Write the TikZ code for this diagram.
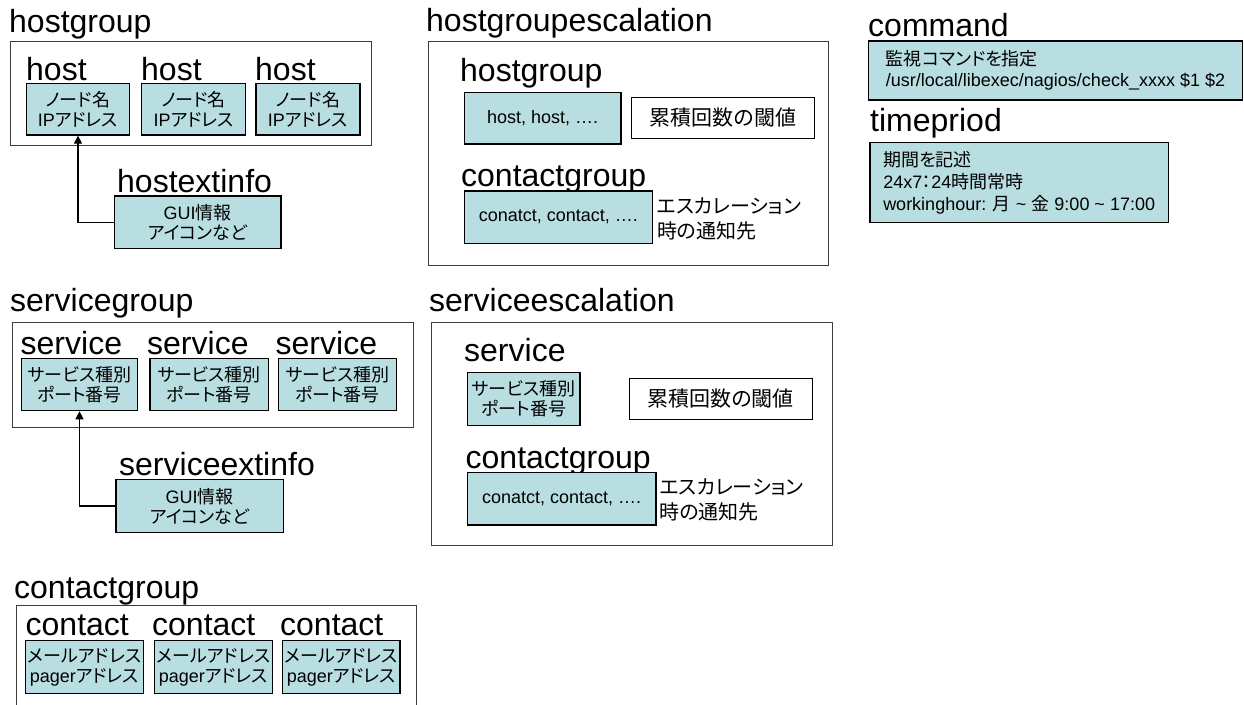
\documentclass[tikz,border=0pt]{standalone}
\usepackage{fontspec}
\setmainfont{Liberation Sans}
\newfontfamily\jp[RawFeature=+palt]{Noto Sans CJK JP}
\newcommand\jtext[1]{{\jp #1}}
\usetikzlibrary{arrows.meta}
\definecolor{boxfill}{RGB}{184,222,226}
\definecolor{framegray}{RGB}{60,60,60}
\tikzset{
  heading/.style={anchor=base west, inner sep=0, font=\fontsize{32}{38}\selectfont},
  frame/.style={draw=framegray, line width=1pt, inner sep=0},
  item/.style={draw=black, fill=boxfill, line width=1.2pt, inner sep=0, align=center,
    font=\fontsize{18}{20}\selectfont},
  listbox/.style={draw=black, fill=boxfill, line width=1.2pt, inner sep=0,
    align=left, font=\fontsize{18}{20.5}\selectfont},
  note/.style={draw=black, fill=white, line width=1.2pt, inner sep=0,
    font=\jp\fontsize{21}{25}\selectfont},
  remark/.style={anchor=west, inner sep=0, align=left, font=\jp\fontsize{20}{25.5}\selectfont},
  link/.style={line width=1.2pt, -{Triangle[length=8pt,width=8pt]}},
}
\begin{document}
\begin{tikzpicture}[x=1pt,y=-1pt]
\fill[white] (0,0) rectangle (1244,704);
\useasboundingbox (0,0) rectangle (1244,704);

% ---------- hostgroup ----------
\node[frame, minimum width=360.3pt, minimum height=104pt] (hgf) at (190.9,93.7) {};
\node[heading] (hgt) at (9,32) {hostgroup};
\node[heading] (h1t) at (26,80) {host};
\node[heading] (h2t) at (141,80) {host};
\node[heading] (h3t) at (255,80) {host};
\node[item, minimum width=102.6pt, minimum height=51.7pt] (h1) at (78,109.2) {\jtext{ノード名}\\IP\jtext{アドレス}};
\node[item, minimum width=104pt, minimum height=51.7pt] (h2) at (193.7,109.2) {\jtext{ノード名}\\IP\jtext{アドレス}};
\node[item, minimum width=104pt, minimum height=51.7pt] (h3) at (308,109.2) {\jtext{ノード名}\\IP\jtext{アドレス}};
\node[heading] (hxt) at (117,192.7) {hostextinfo};
\node[item, minimum width=166.7pt, minimum height=52.3pt] (hx) at (197.7,222.2) {GUI\jtext{情報}\\\jtext{アイコンなど}};
\draw[link] (hx.west) -| (h1.south);

% ---------- hostgroupescalation ----------
\node[frame, minimum width=400pt, minimum height=223.3pt] (hef) at (628.3,153.35) {};
\node[heading] (het) at (426,31.7) {hostgroupescalation};
\node[heading] (heht) at (460,81.7) {hostgroup};
\node[heading] (hect) at (461,186.7) {contactgroup};
\node[item, minimum width=156.7pt, minimum height=51.7pt] (heh) at (542.65,118.15) {host, host, ….};
\node[note, minimum width=182.6pt, minimum height=41pt] (hen) at (723,117.8) {累積回数の閾値};
\node[item, minimum width=188pt, minimum height=52.3pt] (hec) at (558.3,217.15) {conatct, contact, ….};
\node[remark] (her) at (657,219.2) {エスカレーション\\時の通知先};

% ---------- command / timepriod ----------
\node[heading] (cmt) at (868,36.7) {command};
\node[listbox, minimum width=374.4pt, minimum height=59pt] (cm) at (1055.5,70.5)
  {\jtext{監視コマンドを指定}\\/usr/local/libexec/nagios/check\_xxxx \$1 \$2};
\node[heading] (tpt) at (870,131.7) {timepriod};
\node[listbox, minimum width=298.3pt, minimum height=80pt, font=\fontsize{18}{21.7}\selectfont] (tp) at (1019.15,182.7)
  {\jtext{期間を記述}\\24x7\jtext{：}24\jtext{時間常時}\\workinghour: \jtext{月} \textasciitilde{} \jtext{金} 9:00 \textasciitilde{} 17:00};

% ---------- servicegroup ----------
\node[frame, minimum width=401pt, minimum height=105pt] (sgf) at (212.8,375.2) {};
\node[heading] (sgt) at (10,311.7) {servicegroup};
\node[heading] (s1t) at (20.5,354) {service};
\node[heading] (s2t) at (147,354) {service};
\node[heading] (s3t) at (275.5,354) {service};
\node[item, minimum width=115.6pt, minimum height=52.4pt] (s1) at (79.5,384.5) {\jtext{サービス種別}\\\jtext{ポート番号}};
\node[item, minimum width=118.3pt, minimum height=52.4pt] (s2) at (209.15,384.5) {\jtext{サービス種別}\\\jtext{ポート番号}};
\node[item, minimum width=118.4pt, minimum height=52.4pt] (s3) at (337.5,384.5) {\jtext{サービス種別}\\\jtext{ポート番号}};
\node[heading] (sxt) at (119,475) {serviceextinfo};
\node[item, minimum width=167.3pt, minimum height=53.4pt] (sx) at (199.65,506) {GUI\jtext{情報}\\\jtext{アイコンなど}};
\draw[link] (sx.west) -| (s1.south);

% ---------- serviceescalation ----------
\node[frame, minimum width=400.6pt, minimum height=222.3pt] (sef) at (632,433.85) {};
\node[heading] (set) at (429,311.7) {serviceescalation};
\node[heading] (sest) at (464,361.7) {service};
\node[heading] (sect) at (465.5,468.3) {contactgroup};
\node[item, minimum width=112.7pt, minimum height=53.4pt] (ses) at (523.65,399) {\jtext{サービス種別}\\\jtext{ポート番号}};
\node[note, minimum width=183pt, minimum height=41pt] (sen) at (720.8,398.8) {累積回数の閾値};
\node[item, minimum width=188.7pt, minimum height=52.3pt] (sec) at (561.65,498.85) {conatct, contact, ….};
\node[remark] (ser) at (659.5,500) {エスカレーション\\時の通知先};

% ---------- contactgroup ----------
\node[frame, minimum width=400pt, minimum height=155pt] (cgf) at (216.7,682.5) {};
\node[heading] (cgt) at (14,598.3) {contactgroup};
\node[heading] (c1t) at (25.5,635) {contact};
\node[heading] (c2t) at (152,635) {contact};
\node[heading] (c3t) at (280,635) {contact};
\node[item, minimum width=117.6pt, minimum height=52.6pt] (c1) at (84.5,667) {\jtext{メールアドレス}\\pager\jtext{アドレス}};
\node[item, minimum width=118.4pt, minimum height=52.6pt] (c2) at (213.5,667) {\jtext{メールアドレス}\\pager\jtext{アドレス}};
\node[item, minimum width=117.3pt, minimum height=52.6pt] (c3) at (341.35,667) {\jtext{メールアドレス}\\pager\jtext{アドレス}};
\end{tikzpicture}
\end{document}
